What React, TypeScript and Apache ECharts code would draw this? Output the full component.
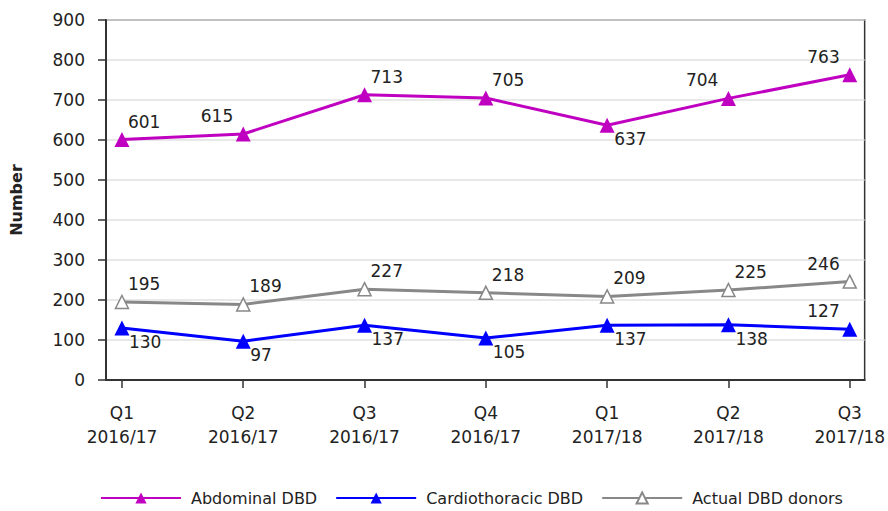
import React, { useEffect, useRef } from "react";
import * as echarts from "echarts";

const categories = [
  "Q1\n2016/17",
  "Q2\n2016/17",
  "Q3\n2016/17",
  "Q4\n2016/17",
  "Q1\n2017/18",
  "Q2\n2017/18",
  "Q3\n2017/18",
];
const abdominal = [601, 615, 713, 705, 637, 704, 763];
const cardiothoracic = [130, 97, 137, 105, 137, 138, 127];
const actualDonors = [195, 189, 227, 218, 209, 225, 246];

const abdominalLabelPos = ["ur", "ul", "ur", "ur", "lr", "ul", "ul"];
const cardioLabelPos = ["lr", "lr", "lr", "lr", "lr", "lr", "ul"];
const donorsLabelPos = ["ur", "ur", "ur", "ur", "ur", "ur", "ul"];

const FONT = "DejaVu Sans";

function labelFor(pos: string) {
  const base: any = {
    show: true,
    position: "inside",
    verticalAlign: "middle",
    fontFamily: FONT,
    fontSize: 17,
    color: "#222",
  };
  if (pos === "ur") return { ...base, align: "left", offset: [6, -18] };
  if (pos === "ul") return { ...base, align: "right", offset: [-10, -18] };
  if (pos === "lr") return { ...base, align: "left", offset: [7, 14] };
  return { ...base, align: "right", offset: [-8, 14] };
}

function buildData(values: number[], pos: string[]) {
  return values.map((v, i) => ({ value: [i, v], label: labelFor(pos[i]) }));
}

export default function App() {
  const ref = useRef<HTMLDivElement>(null);
  useEffect(() => {
    document.body.style.margin = "0";
    if (!ref.current) return;
    const chart = echarts.init(ref.current, undefined, { renderer: "svg" });
    const idx = categories.map((_, i) => i);
    chart.setOption({
      animation: false,
      backgroundColor: "#fff",
      textStyle: { fontFamily: FONT },
      grid: {
        left: 104,
        right: 23,
        top: 20,
        bottom: 131,
        show: true,
        borderColor: "#333",
        borderWidth: 1.5,
        backgroundColor: "transparent",
      },
      legend: {
        top: 485,
        left: 95,
        itemWidth: 80,
        itemHeight: 14,
        itemGap: 18,
        textStyle: {
          fontFamily: FONT,
          fontSize: 16,
          color: "#222",
          padding: [0, 0, 0, 5],
        },
        data: ["Abdominal DBD", "Cardiothoracic DBD", "Actual DBD donors"],
      },
      xAxis: {
        type: "value",
        min: -0.1315,
        max: 6.123,
        axisLine: { show: true, onZero: false, lineStyle: { color: "#333", width: 2 } },
        axisTick: {
          show: true,
          length: 8,
          customValues: idx,
          lineStyle: { color: "#333", width: 1.5 },
        },
        axisLabel: {
          customValues: idx,
          margin: 21,
          fontFamily: FONT,
          fontSize: 17,
          color: "#222",
          lineHeight: 24,
          formatter: (v: number) => categories[Math.round(v)] ?? "",
        },
        splitLine: { show: false },
      },
      yAxis: {
        type: "value",
        min: 0,
        max: 900,
        interval: 100,
        name: "Number",
        nameLocation: "middle",
        nameGap: 82,
        nameTextStyle: {
          fontFamily: FONT,
          fontSize: 16,
          fontWeight: "bold",
          color: "#222",
        },
        axisLine: { show: true, onZero: false, lineStyle: { color: "#333", width: 2 } },
        axisTick: { show: true, length: 8, lineStyle: { color: "#333", width: 1.5 } },
        axisLabel: {
          margin: 21,
          fontFamily: FONT,
          fontSize: 17,
          color: "#222",
        },
        splitLine: { show: true, lineStyle: { color: "#e0e0e0", width: 1.5 } },
      },
      series: [
        {
          name: "Abdominal DBD",
          type: "line",
          data: buildData(abdominal, abdominalLabelPos),
          symbol: "triangle",
          symbolSize: 15,
          lineStyle: { color: "#C000C0", width: 3 },
          itemStyle: { color: "#C000C0" },
        },
        {
          name: "Cardiothoracic DBD",
          type: "line",
          data: buildData(cardiothoracic, cardioLabelPos),
          symbol: "triangle",
          symbolSize: 15,
          lineStyle: { color: "#0000FF", width: 3 },
          itemStyle: { color: "#0000FF" },
        },
        {
          name: "Actual DBD donors",
          type: "line",
          data: buildData(actualDonors, donorsLabelPos),
          symbol: "triangle",
          symbolSize: 13,
          lineStyle: { color: "#888888", width: 3 },
          itemStyle: { color: "#ffffff", borderColor: "#888888", borderWidth: 1.5 },
        },
      ],
    });
    return () => chart.dispose();
  }, []);
  return <div ref={ref} style={{ width: 888, height: 511 }} />;
}
